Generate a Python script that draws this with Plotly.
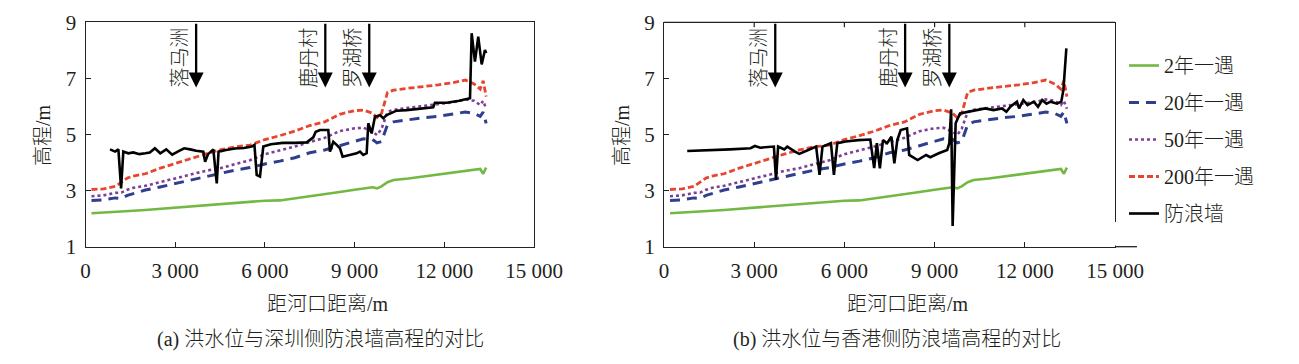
import plotly.graph_objects as go

# ---------------- data ----------------
dist_levels = [200, 600, 1000, 1200, 1400, 1600, 2000, 2500, 3000, 3500, 4000, 4500, 5000, 5500,
               6000, 6500, 7000, 7500, 8000, 8500, 9000, 9300, 9600, 9750, 9900, 10100, 10300,
               10800, 11300, 11800, 12300, 12700, 13000, 13200, 13300, 13400]
level_2yr = [2.19, 2.21, 2.24, 2.25, 2.26, 2.28, 2.31, 2.35, 2.39, 2.43, 2.47, 2.51, 2.55, 2.60,
             2.64, 2.65, 2.72, 2.79, 2.87, 2.95, 3.03, 3.08, 3.12, 3.08, 3.15, 3.30, 3.38,
             3.43, 3.50, 3.56, 3.63, 3.70, 3.74, 3.77, 3.60, 3.82]
level_20yr = [2.65, 2.67, 2.74, 2.72, 2.83, 2.90, 3.02, 3.13, 3.25, 3.38, 3.50, 3.62, 3.73, 3.82,
              3.95, 4.05, 4.17, 4.35, 4.45, 4.60, 4.74, 4.85, 4.82, 4.70, 4.75, 5.35, 5.45,
              5.53, 5.60, 5.65, 5.72, 5.80, 5.75, 5.65, 5.80, 5.40]
level_50yr = [2.80, 2.83, 2.92, 2.93, 3.03, 3.10, 3.17, 3.30, 3.42, 3.56, 3.70, 3.80, 3.95, 4.08,
              4.30, 4.43, 4.57, 4.73, 4.88, 5.12, 5.22, 5.24, 5.10, 4.98, 5.20, 5.80, 5.88,
              5.95, 6.02, 6.07, 6.15, 6.25, 6.20, 6.05, 6.20, 5.92]
level_200yr = [3.04, 3.06, 3.15, 3.30, 3.45, 3.52, 3.60, 3.80, 3.97, 4.13, 4.30, 4.45, 4.56, 4.62,
               4.82, 4.96, 5.12, 5.32, 5.45, 5.72, 5.85, 5.87, 5.76, 5.60, 5.75, 6.50, 6.58,
               6.65, 6.70, 6.77, 6.85, 6.94, 6.80, 6.62, 6.92, 6.35]

wall_sz_x = [820, 990, 1100, 1190, 1265, 1430, 1600, 1800, 2000, 2150, 2320, 2500, 2700, 2900,
             3100, 3300, 3500, 3700, 3940, 4000, 4100, 4275, 4390, 4450, 4700, 5000, 5300,
             5557, 5650, 5725, 5835, 5946, 6200, 6600, 7000, 7400, 7618, 7700, 7842, 8120,
             8176, 8287, 8399, 8511, 8600, 8845, 9068, 9180, 9290, 9403, 9458, 9570, 9681,
             9848, 9960, 10072, 10183, 10406, 10740, 11200, 11630, 11686, 12080, 12500, 12860,
             12915, 13025, 13135, 13250, 13360, 13400]
wall_sz_y = [4.47, 4.39, 4.47, 3.08, 4.39, 4.33, 4.36, 4.30, 4.33, 4.36, 4.51, 4.33, 4.47, 4.28,
             4.40, 4.51, 4.47, 4.42, 4.39, 4.03, 4.30, 4.47, 3.26, 4.39, 4.45, 4.50, 4.52,
             4.57, 4.63, 3.56, 3.50, 4.57, 4.65, 4.70, 4.70, 4.72, 4.90, 5.10, 5.16, 5.16,
             4.39, 4.74, 4.63, 4.51, 4.21, 4.27, 4.33, 4.39, 4.27, 4.33, 5.40, 5.04, 5.63,
             5.69, 5.58, 5.69, 5.75, 5.85, 5.87, 5.92, 5.97, 6.13, 6.13, 6.20, 6.29,
             8.61, 7.60, 8.49, 7.50, 8.01, 7.90]

wall_hk_x = [773, 1500, 2200, 2881, 3023, 3200, 3500, 3655, 3725, 3795, 4000, 4100, 4357, 4498,
             4779, 5060, 5173, 5271, 5553, 5651, 5764, 6043, 6465, 6860, 6990, 7080, 7180,
             7282, 7420, 7563, 7661, 7760, 7873, 8084, 8155, 8436, 8717, 8857, 9138, 9420,
             9489, 9550, 9600, 9700, 9845, 10121, 10402, 10683, 10960, 11240, 11387, 11528,
             11739, 11810, 11950, 12090, 12300, 12440, 12580, 12720, 12860, 13070, 13213,
             13284, 13382]
wall_hk_y = [4.41, 4.43, 4.47, 4.51, 4.59, 4.53, 4.55, 4.57, 3.38, 4.57, 4.47, 4.57, 4.39, 4.31,
             4.44, 4.57, 3.56, 4.57, 4.69, 3.56, 4.69, 4.75, 4.80, 4.82, 3.80, 4.69, 3.79,
             4.80, 4.69, 4.92, 3.97, 4.80, 5.16, 5.22, 4.27, 4.09, 4.27, 4.19, 4.33, 4.45,
             4.69, 5.90, 1.74, 5.40, 5.75, 5.81, 5.87, 5.93, 5.87, 5.93, 5.81, 6.00,
             6.17, 5.93, 6.23, 6.05, 6.17, 5.99, 6.23, 6.10, 6.17, 6.10, 6.17,
             6.59, 8.07]

landmark_names = ["落马洲", "鹿丹村", "罗湖桥"]
landmark_x = [3700, 8020, 9490]
arrow_tip = 6.68

series_names = ["2年一遇", "20年一遇", "50年一遇", "200年一遇"]
series_colors = ["#72b843", "#2f3f8e", "#7d3f98", "#e8442f"]
series_dash = ["solid", "10px,7px", "dot", "6px,3px"]
series_width = [2.6, 3.0, 2.6, 2.8]
level_values = [level_2yr, level_20yr, level_50yr, level_200yr]

x_ticks = [0, 3000, 6000, 9000, 12000, 15000]
x_ticklabels = ["0", "3 000", "6 000", "9 000", "12 000", "15 000"]
y_ticks = [1, 3, 5, 7, 9]

x_title = "距河口距离/m"
y_title = "高程/m"
captions = ["(a) 洪水位与深圳侧防浪墙高程的对比", "(b) 洪水位与香港侧防浪墙高程的对比"]

# ---------------- figure ----------------
W, H = 1299, 364
OFF = 8  # page body margin of the browser
FONT = "Liberation Serif, 'Noto Sans CJK SC', serif"
TXT = "#231f20"

def px_x(p):
    return (p - OFF) / W

def px_y(p):
    return 1 - (p - OFF) / H

fig = go.Figure()

for panel, (wx, wy) in enumerate([(wall_sz_x, wall_sz_y), (wall_hk_x, wall_hk_y)]):
    xa = "x" if panel == 0 else "x2"
    ya = "y" if panel == 0 else "y2"
    for i, name in enumerate(series_names):
        fig.add_trace(go.Scatter(
            x=dist_levels, y=level_values[i], mode="lines", name=name,
            line=dict(color=series_colors[i], dash=series_dash[i], width=series_width[i]),
            xaxis=xa, yaxis=ya, showlegend=(panel == 1), legendgroup=name))
    fig.add_trace(go.Scatter(
        x=wx, y=wy, mode="lines", name="防浪墙",
        line=dict(color="black", width=2.6),
        xaxis=xa, yaxis=ya, showlegend=(panel == 1), legendgroup="防浪墙"))

domains_x = [[px_x(85.5), px_x(534)], [px_x(664), px_x(1115)]]
dom_y = [px_y(246.7), px_y(22.3)]

axis_common = dict(
    showgrid=False, zeroline=False, showline=True, linecolor="#222", linewidth=1.3,
    ticks="inside", ticklen=5, tickwidth=1.2, tickcolor="#222", automargin=False,
    tickfont=dict(family=FONT, size=21, color=TXT),
)
layout_axes = {}
for panel in range(2):
    sx = "" if panel == 0 else "2"
    layout_axes["xaxis" + sx] = dict(
        axis_common, domain=domains_x[panel], range=[0, 15000],
        tickvals=x_ticks, ticktext=x_ticklabels, anchor="y" + sx,
        mirror=True if panel == 0 else False, ticklabelstandoff=5)
    layout_axes["yaxis" + sx] = dict(
        axis_common, domain=dom_y, range=[1, 9], tickvals=y_ticks,
        anchor="x" + sx, mirror=True, ticklabelstandoff=4)

fig.update_layout(**layout_axes)

for panel in range(2):
    xr = "x" if panel == 0 else "x2"
    yr = "y" if panel == 0 else "y2"
    for name, xp in zip(landmark_names, landmark_x):
        fig.add_annotation(x=xp, y=arrow_tip, ax=xp, ay=9, xref=xr, yref=yr,
                           axref=xr, ayref=yr, text="", showarrow=True,
                           arrowhead=2, arrowsize=1.3, arrowwidth=2.3, arrowcolor="black")
        fig.add_annotation(x=xp, y=arrow_tip, xref=xr, yref=yr, text=name,
                           textangle=-90, xanchor="right", yanchor="bottom",
                           showarrow=False, xshift=-3, yshift=-2,
                           font=dict(family=FONT, size=20, color=TXT, weight=300))

# axis titles and captions
x_title_cx = [328, 908]
y_title_cx = [43, 622]
caption_cx = [320, 897]
for panel in range(2):
    fig.add_annotation(x=px_x(x_title_cx[panel]), y=px_y(304), xref="paper", yref="paper",
                       text=x_title, showarrow=False, xanchor="center", yanchor="middle",
                       font=dict(family=FONT, size=20, color=TXT, weight=300))
    fig.add_annotation(x=px_x(y_title_cx[panel]), y=px_y(135), xref="paper", yref="paper",
                       text=y_title, textangle=-90, showarrow=False, xanchor="center",
                       yanchor="middle", font=dict(family=FONT, size=20, color=TXT, weight=300))
    fig.add_annotation(x=px_x(caption_cx[panel]), y=px_y(339), xref="paper", yref="paper",
                       text=captions[panel], showarrow=False, xanchor="center", yanchor="middle",
                       font=dict(family=FONT, size=20, color=TXT, weight=300))

# right panel frame: top line with ticks drawn as shapes; right border stops short
fig.add_shape(type="line", xref="paper", yref="paper",
              x0=px_x(664), x1=px_x(1115), y0=px_y(22.3), y1=px_y(22.3),
              line=dict(color="#222", width=1.3))
for xv in x_ticks[1:-1]:
    fig.add_shape(type="line", xref="x2", yref="paper", x0=xv, x1=xv,
                  y0=px_y(22.3), y1=px_y(27.3), line=dict(color="#222", width=1.2))
fig.add_shape(type="rect", xref="paper", yref="paper",
              x0=px_x(1112), x1=px_x(1118), y0=px_y(245.5), y1=px_y(222),
              fillcolor="white", line=dict(width=0), layer="above")
fig.add_shape(type="line", xref="paper", yref="paper",
              x0=px_x(1115), x1=px_x(1137), y0=px_y(246.7), y1=px_y(246.7),
              line=dict(color="#222", width=1.3))

fig.update_layout(
    width=W, height=H, margin=dict(l=0, r=0, t=0, b=0, autoexpand=False),
    paper_bgcolor="white", plot_bgcolor="white",
    font=dict(family=FONT, size=20, color=TXT),
    legend=dict(x=px_x(1124), y=px_y(46), xanchor="left", yanchor="top",
                font=dict(family=FONT, size=20, color=TXT, weight=300),
                traceorder="grouped", tracegroupgap=8, itemwidth=30,
                bgcolor="rgba(0,0,0,0)"),
)

fig.write_html("out.html")
